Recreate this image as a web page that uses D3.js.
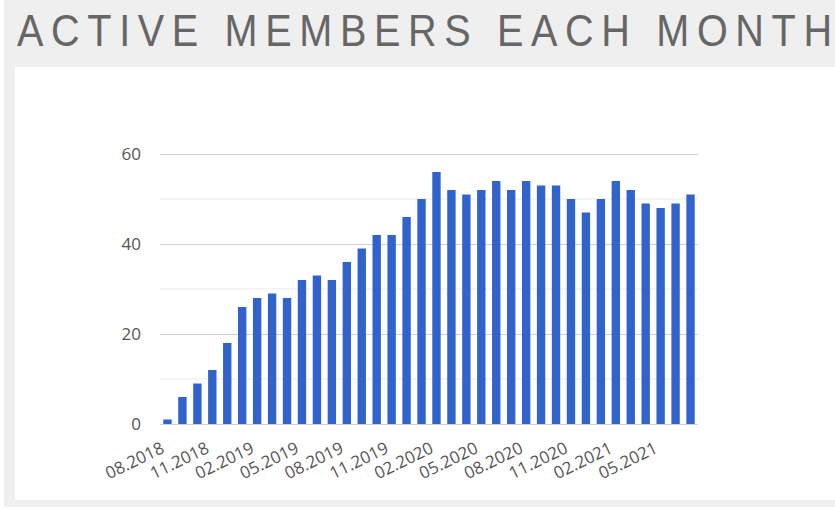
<!DOCTYPE html>
<html lang="en">
  <head>
    <meta charset="utf-8">
    <title>Active members each month</title>
    <style>
      body { margin: 0; background: #fff; }
      svg { display: block; }
      .title { font-family: "Liberation Sans", Arial, sans-serif; font-size: 44px; fill: #666; }
      .tick text { font-family: "Open Sans", sans-serif; fill: #555; }
    </style>
  </head>
  <body>
    <svg width="835" height="510"></svg>
    <script src="https://d3js.org/d3.v7.min.js"></script>
    <script>
    // months from 08.2018 to 07.2021
    var months = ["08.2018","09.2018","10.2018","11.2018","12.2018","01.2019","02.2019","03.2019","04.2019",
      "05.2019","06.2019","07.2019","08.2019","09.2019","10.2019","11.2019","12.2019","01.2020",
      "02.2020","03.2020","04.2020","05.2020","06.2020","07.2020","08.2020","09.2020","10.2020",
      "11.2020","12.2020","01.2021","02.2021","03.2021","04.2021","05.2021","06.2021","07.2021"];
    var members = [1, 6, 9, 12, 18, 26, 28, 29, 28, 32, 33, 32, 36, 39, 42, 42, 46, 50,
      56, 52, 51, 52, 54, 52, 54, 53, 53, 50, 47, 50, 54, 52, 49, 48, 49, 51];
    var yTicks = [0, 20, 40, 60];
    var yMinor = [10, 30, 50];

    var svg = d3.select("svg");

    // page background + white panel
    svg.append("rect").attr("x", 4).attr("y", 0).attr("width", 831).attr("height", 507).attr("fill", "#efefef");
    svg.append("rect").attr("x", 15).attr("y", 67).attr("width", 820).attr("height", 433).attr("fill", "#fff");

    // title is a condensed face in the original, squeeze it a bit
    var sx = 0.9;
    svg.append("text").attr("class", "title")
      .attr("transform", "translate(17,46) scale(" + sx + ",1)")
      .attr("textLength", 815 / sx).attr("lengthAdjust", "spacing")
      .text("ACTIVE MEMBERS EACH MONTH");

    var x = d3.scaleBand().domain(months).range([160, 698]).paddingInner(0.44).paddingOuter(0.22);
    var y = d3.scaleLinear().domain([0, 60]).range([424, 154]);

    // minor gridlines
    svg.append("g").selectAll("line").data(yMinor).enter().append("line")
      .attr("x1", 160).attr("x2", 698)
      .attr("y1", function(d) { return y(d); }).attr("y2", function(d) { return y(d); })
      .attr("stroke", "#ebebeb");

    var yAxis = svg.append("g").attr("transform", "translate(160,0)")
      .call(d3.axisLeft(y).tickValues(yTicks).tickSize(-538).tickPadding(19));
    yAxis.select(".domain").remove();
    yAxis.selectAll(".tick line").attr("stroke", "#cfcfcf");
    yAxis.selectAll(".tick text").attr("font-size", 17);

    svg.append("g").selectAll("rect").data(members).enter().append("rect")
      .attr("x", function(d, i) { return x(months[i]); })
      .attr("y", function(d) { return y(d); })
      .attr("width", x.bandwidth())
      .attr("height", function(d) { return y(0) - y(d); })
      .attr("fill", "#3163cc");

    // x labels every 3rd month
    var xAxis = svg.append("g").attr("transform", "translate(0,424)")
      .call(d3.axisBottom(x).tickValues(months.filter(function(d, i) { return i % 3 == 0; })).tickSize(0));
    xAxis.select(".domain").remove();
    xAxis.selectAll(".tick text")
      .attr("font-size", 17)
      .attr("text-anchor", "end")
      .attr("y", 0).attr("dy", 0)
      .attr("transform", "translate(-2,28) rotate(-26)");
    </script>
  </body>
</html>
